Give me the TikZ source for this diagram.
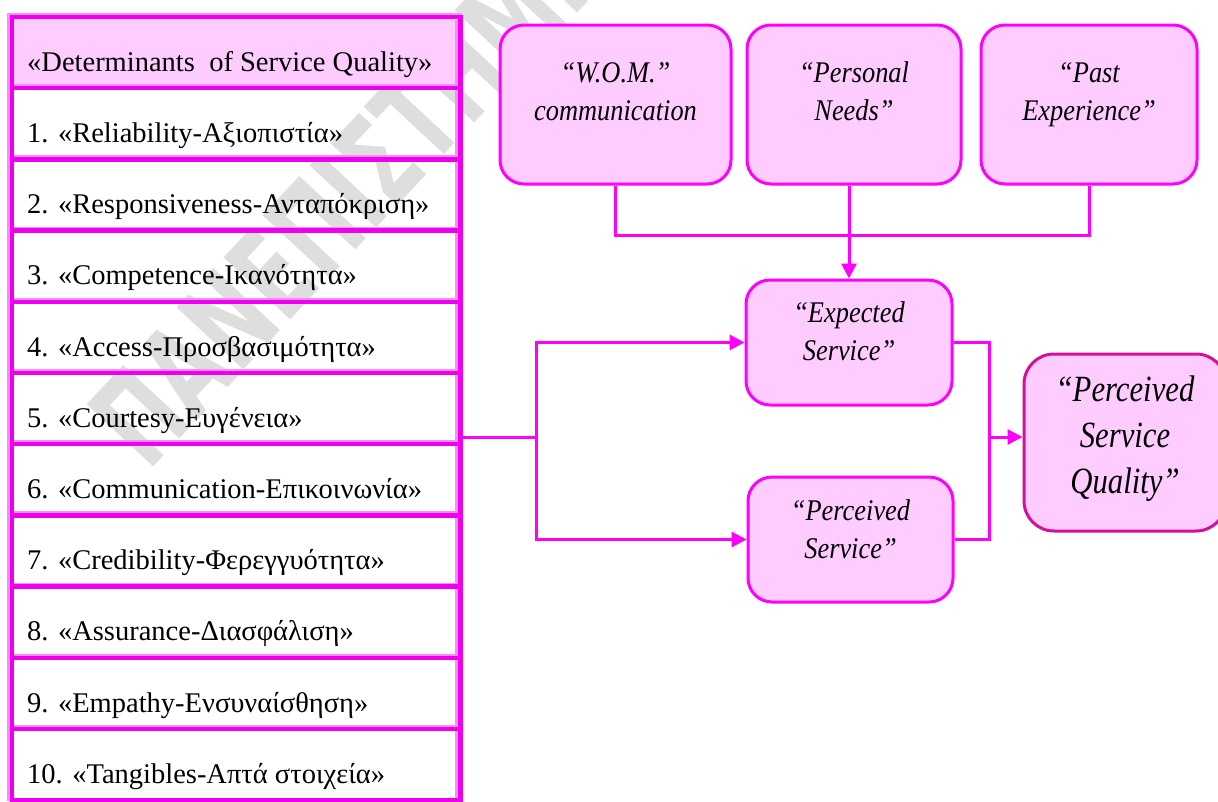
\documentclass[tikz,border=0pt]{standalone}
\usepackage{fontspec}
\setmainfont{Liberation Serif}
\newfontfamily\boxfont[FakeStretch=0.88]{Liberation Serif}
\newfontfamily\bigboxfont[FakeStretch=0.83]{Liberation Serif}
\newfontfamily\markfont{DejaVu Sans}
\usetikzlibrary{arrows.meta,positioning,calc}
\definecolor{tabmagenta}{RGB}{238,0,238}
\definecolor{tablepink}{RGB}{246,140,246}
\definecolor{boxpink}{RGB}{255,204,255}
\definecolor{linkmagenta}{RGB}{255,0,255}
\definecolor{qualityrim}{RGB}{212,16,155}
\definecolor{markgray}{RGB}{222,222,222}

% text of a box, raised a little inside it
\newcommand{\lifted}[2]{\raisebox{#1}[\height][\depth]{\begin{tabular}{@{}c@{}}#2\end{tabular}}}

\tikzset{
  tablerule/.style={draw=tabmagenta, line width=4.5pt},
  tableedge/.style={draw=tablepink, line width=2.5pt},
  celltext/.style={anchor=base west, inner sep=0pt, font=\fontsize{28.5}{34}\selectfont},
  factor/.style={draw=linkmagenta, line width=3pt, fill=boxpink, rounded corners=24pt,
    inner sep=0pt, font=\boxfont\itshape\fontsize{30}{38}\selectfont},
  quality/.style={factor, draw=qualityrim, rounded corners=30pt,
    font=\bigboxfont\itshape\fontsize{37}{46}\selectfont},
  link/.style={draw=linkmagenta, line width=3pt},
  linkarrow/.style={link, -{Triangle[length=15pt,width=15pt]}},
  watermark/.style={anchor=base west, rotate=47, inner sep=0pt, text=markgray,
    font=\markfont\bfseries\fontsize{125}{125}\selectfont}
}

\begin{document}
\begin{tikzpicture}[x=1pt,y=-1pt]
\useasboundingbox[fill=white] (0,0) rectangle (1218,801);

% Watermark
\node[watermark] (wmark) at (148,473) {\scalebox{0.66}[1]{ΠΑΝΕΠΙΣΤΗΜΙΟ}};

% Table of determinants
\fill[boxpink] (12,19) rectangle (459,86);
\draw[tableedge] (8.5,801) -- (8.5,14) -- (462,14);
\draw[tableedge] (456.5,20) -- (456.5,801);
\draw[tableedge] (12,85.5) -- (456,85.5) (12,156.7) -- (456,156.7) (12,227.9) -- (456,227.9)
  (12,299.1) -- (456,299.1) (12,370.3) -- (456,370.3) (12,441.5) -- (456,441.5)
  (12,512.7) -- (456,512.7) (12,583.9) -- (456,583.9) (12,655.1) -- (456,655.1)
  (12,726.3) -- (456,726.3);
\draw[tablerule] (12,17) rectangle (460.5,800.2);
\draw[tablerule] (12,88.2) -- (460,88.2) (12,159.4) -- (460,159.4) (12,230.6) -- (460,230.6)
  (12,301.8) -- (460,301.8) (12,373) -- (460,373) (12,444.2) -- (460,444.2)
  (12,515.4) -- (460,515.4) (12,586.6) -- (460,586.6) (12,657.8) -- (460,657.8)
  (12,729) -- (460,729);

\node[celltext] (head) at (27,71.2) {«Determinants~ of Service Quality»};
\node[celltext] (r1) at (27,142.4) {1. «Reliability-Αξιοπιστία»};
\node[celltext] (r2) at (27,213.6) {2. «Responsiveness-Ανταπόκριση»};
\node[celltext] (r3) at (27,284.8) {3. «Competence-Ικανότητα»};
\node[celltext] (r4) at (27,356) {4. «Access-Προσβασιμότητα»};
\node[celltext] (r5) at (27,427.2) {5. «Courtesy-Ευγένεια»};
\node[celltext] (r6) at (27,498.4) {6. «Communication-Επικοινωνία»};
\node[celltext] (r7) at (27,569.6) {7. «Credibility-Φερεγγυότητα»};
\node[celltext] (r8) at (27,640.8) {8. «Assurance-Διασφάλιση»};
\node[celltext] (r9) at (27,712) {9. «Empathy-Ενσυναίσθηση»};
\node[celltext] (r10) at (27,783.2) {10. «Tangibles-Απτά στοιχεία»};
\coordinate (tab) at (461,437);

% Expectation sources
\node[factor, minimum width=231pt, minimum height=159pt] (wom) at (615.5,104.5)
  {\lifted{11pt}{“W.O.M.”\\communication}};
\node[factor, minimum width=214pt, minimum height=159pt] (pn) at (854,104.5)
  {\lifted{11pt}{“Personal\\Needs”}};
\node[factor, minimum width=216pt, minimum height=159pt] (pe) at (1089,104.5)
  {\lifted{11pt}{“Past\\Experience”}};

% Expected / perceived
\node[factor, minimum width=206pt, minimum height=125pt] (exp) at (849,342.5)
  {\lifted{9pt}{“Expected\\Service”}};
\node[factor, minimum width=205pt, minimum height=125pt] (per) at (850.5,539.5)
  {\lifted{8pt}{“Perceived\\Service”}};
\node[quality, minimum width=202pt, minimum height=177pt] (psq) at (1125,442.5)
  {\lifted{4pt}{“Perceived\\Service\\Quality”}};

% Connectors
\coordinate (merge) at (849,235);
\coordinate (split) at (536,437);
\coordinate (join) at (989,437);
\draw[link] (wom.south) |- (merge) -| (pe.south);
\draw[linkarrow] (exp.north |- pn.south) -- (exp.north);
\draw[link] (tab) -- (split);
\draw[linkarrow] (split) |- (exp.west);
\draw[linkarrow] (split) |- (per.west);
\draw[link] (exp.east) -| (join);
\draw[link] (per.east) -| (join);
\draw[linkarrow] (join) -- (join -| psq.west);

\end{tikzpicture}
\end{document}
